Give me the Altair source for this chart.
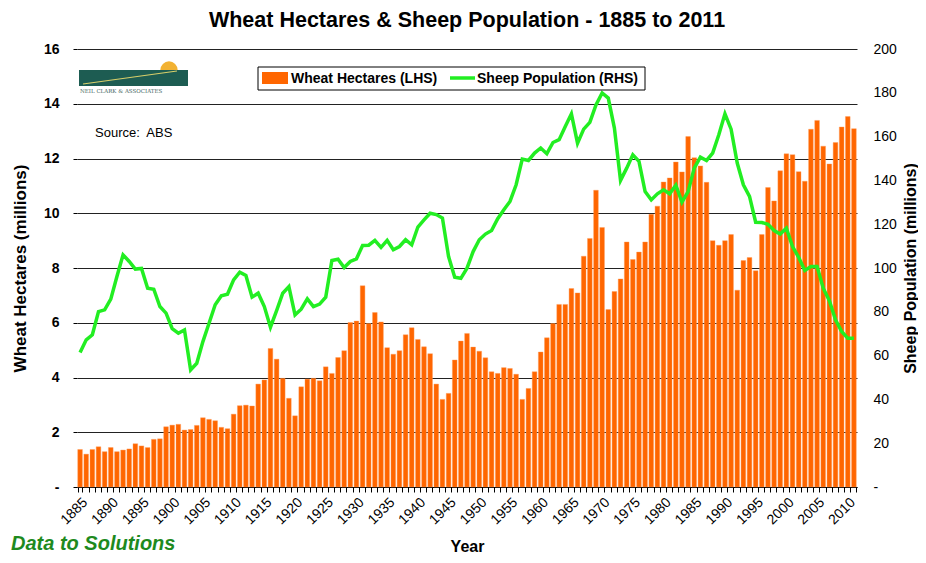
import altair as alt
import pandas as pd

years = list(range(1885, 2012))

wheat = [
    1.37, 1.20, 1.37, 1.47, 1.29, 1.44, 1.29, 1.35, 1.39, 1.58,
    1.50, 1.44, 1.74, 1.76, 2.20, 2.26, 2.29, 2.08, 2.10, 2.25,
    2.53, 2.47, 2.42, 2.18, 2.13, 2.66, 2.97, 2.99, 2.96, 3.76,
    3.91, 5.06, 4.67, 3.97, 3.24, 2.60, 3.66, 3.94, 3.97, 3.88,
    4.39, 4.15, 4.73, 4.98, 6.01, 6.06, 7.35, 5.97, 6.37, 6.03,
    5.09, 4.85, 4.98, 5.56, 5.82, 5.39, 5.12, 4.87, 3.76, 3.20,
    3.42, 4.64, 5.33, 5.61, 5.11, 4.96, 4.72, 4.21, 4.15, 4.36,
    4.33, 4.12, 3.20, 3.60, 4.21, 4.93, 5.45, 5.97, 6.67, 6.67,
    7.25, 7.09, 8.43, 9.08, 10.84, 9.48, 6.48, 7.14, 7.60, 8.95,
    8.31, 8.58, 8.95, 9.96, 10.26, 11.14, 11.29, 11.87, 11.51, 12.80,
    12.03, 11.73, 11.13, 9.00, 8.83, 9.00, 9.22, 7.19, 8.27, 8.38,
    7.90, 9.22, 10.94, 10.45, 11.55, 12.17, 12.14, 11.52, 11.17, 13.07,
    13.39, 12.45, 11.80, 12.58, 13.15, 13.53, 13.09,
]

sheep = [
    61.4, 67.2, 69.5, 80.1, 80.9, 85.8, 96.1, 106.0, 103.0, 99.5,
    99.8, 90.8, 90.3, 82.4, 79.4, 72.3, 70.2, 71.7, 53.5, 56.5,
    66.4, 74.8, 83.2, 87.3, 88.0, 94.6, 98.1, 96.6, 86.7, 88.5,
    82.4, 73.0, 80.5, 88.5, 91.5, 78.6, 81.2, 85.9, 82.4, 83.5,
    86.7, 103.4, 104.0, 100.2, 103.0, 104.2, 110.3, 110.4, 112.6, 109.4,
    112.6, 108.3, 109.8, 112.9, 110.6, 118.7, 122.0, 125.0, 124.4, 122.8,
    105.2, 95.8, 95.3, 99.9, 107.5, 112.9, 115.5, 117.1, 122.5, 126.6,
    130.4, 138.0, 149.7, 149.1, 152.5, 154.8, 152.2, 157.3, 158.6, 164.6,
    170.4, 157.0, 163.4, 166.5, 174.5, 179.9, 177.6, 163.9, 140.0, 145.6,
    151.7, 148.7, 134.9, 131.1, 133.9, 135.7, 133.9, 137.8, 130.1, 134.9,
    145.6, 150.6, 149.1, 152.5, 160.8, 170.4, 163.4, 147.9, 138.0, 132.7,
    120.9, 120.8, 120.0, 117.1, 115.5, 118.2, 109.8, 104.9, 98.9, 100.7,
    100.7, 90.8, 85.1, 76.3, 71.0, 67.9, 67.9,
]

wheat_ticks = [0, 2, 4, 6, 8, 10, 12, 14, 16]
sheep_ticks = [0, 20, 40, 60, 80, 100, 120, 140, 160, 180, 200]

title_text = "Wheat Hectares & Sheep Population - 1885 to 2011"
legend_labels = ["Wheat Hectares (LHS)", "Sheep Population (RHS)"]

df = pd.DataFrame({"Year": years, "Wheat": wheat, "Sheep": sheep})
one = pd.DataFrame({"k": [0]})

FONT = "Liberation Sans"
ORANGE = "#FF6600"
GREEN = "#22EE22"

x_enc = alt.X(
    "Year:O",
    scale=alt.Scale(paddingInner=0.24, paddingOuter=0.12),
    axis=alt.Axis(
        title="Year",
        titleFontSize=16,
        titleFontWeight="bold",
        titlePadding=12,
        labelAngle=-45,
        labelFontSize=14,
        labelExpr="datum.value % 5 == 0 ? datum.label : ''",
        labelPadding=3,
        tickBand="extent",
        tickSize=5,
        tickColor="#000000",
        domainColor="#000000",
        grid=False,
    ),
)

bars = alt.Chart(df).mark_bar(color=ORANGE, stroke="#FF9955", strokeWidth=0.4).encode(
    x=x_enc,
    y=alt.Y(
        "Wheat:Q",
        scale=alt.Scale(domain=[0, 16], nice=False),
        axis=alt.Axis(
            title="Wheat Hectares (millions)",
            titleFontSize=17,
            titleFontWeight="bold",
            titlePadding=14,
            values=wheat_ticks,
            labelExpr="datum.value == 0 ? '-' : datum.label",
            labelFontSize=14,
            labelFontWeight="bold",
            labelPadding=14,
            tickSize=4,
            tickColor="#000000",
            domain=False,
            grid=True,
            gridColor="#222222",
            gridWidth=1,
        ),
    ),
)

line = alt.Chart(df).mark_line(color=GREEN, strokeWidth=3.5).encode(
    x=alt.X("Year:O"),
    y=alt.Y(
        "Sheep:Q",
        scale=alt.Scale(domain=[0, 200], nice=False),
        axis=alt.Axis(
            orient="right",
            title="Sheep Population (millions)",
            titleAngle=-90,
            titleBaseline="top",
            titleFontSize=16,
            titleFontWeight="bold",
            titlePadding=6,
            values=sheep_ticks,
            labelExpr="datum.value == 0 ? '-' : datum.label",
            labelFontSize=14,
            labelPadding=16,
            ticks=False,
            domain=False,
            grid=False,
        ),
    ),
)

# Legend (drawn manually, box with two entries)
leg_box = alt.Chart(one).mark_rect(fill="white", stroke="black", strokeWidth=1).encode(
    x=alt.value(181), x2=alt.value(568), y=alt.value(18), y2=alt.value(41)
)
leg_swatch = alt.Chart(one).mark_rect(fill=ORANGE).encode(
    x=alt.value(185), x2=alt.value(211), y=alt.value(23), y2=alt.value(35)
)
leg_text1 = alt.Chart(one).mark_text(
    text=legend_labels[0], align="left", baseline="middle", font=FONT,
    fontSize=14, fontWeight="bold", color="black"
).encode(x=alt.value(214), y=alt.value(30))
leg_line = alt.Chart(one).mark_rule(color=GREEN, strokeWidth=3.5).encode(
    x=alt.value(373), x2=alt.value(398), y=alt.value(29)
)
leg_text2 = alt.Chart(one).mark_text(
    text=legend_labels[1], align="left", baseline="middle", font=FONT,
    fontSize=14, fontWeight="bold", color="black"
).encode(x=alt.value(400), y=alt.value(30))

# Source note
source = alt.Chart(one).mark_text(
    text="Source:\u00a0 ABS", align="left", baseline="middle", font=FONT,
    fontSize=13, color="black"
).encode(x=alt.value(18), y=alt.value(84))

# Footer
footer = alt.Chart(one).mark_text(
    text="Data to Solutions", align="left", baseline="alphabetic", font=FONT,
    fontSize=20, fontWeight="bold", fontStyle="italic", color="#1E8A1E"
).encode(x=alt.value(-66), y=alt.value(501))

# Logo approximation
logo_sun = alt.Chart(one).mark_point(
    shape="circle", filled=True, color="#F2B233", opacity=1, size=300
).encode(x=alt.value(92), y=alt.value(21))
logo_rect = alt.Chart(one).mark_rect(fill="#1D5C52").encode(
    x=alt.value(2), x2=alt.value(111), y=alt.value(21), y2=alt.value(37)
)
logo_streak = alt.Chart(one).mark_rule(color="#D8CF6A", strokeWidth=1.2).encode(
    x=alt.value(6), x2=alt.value(100), y=alt.value(35), y2=alt.value(22)
)
logo_text = alt.Chart(one).mark_text(
    text="NEIL CLARK & ASSOCIATES", align="left", baseline="middle", font="DejaVu Serif",
    fontSize=5.5, color="#4A6A66"
).encode(x=alt.value(3), y=alt.value(42))

chart = alt.layer(
    bars, line,
    leg_box, leg_swatch, leg_text1, leg_line, leg_text2,
    source, footer, logo_sun, logo_rect, logo_streak, logo_text,
).resolve_scale(y="independent").properties(
    width=780,
    height=438,
    autosize=alt.AutoSizeParams(type="none"),
    padding={"left": 69, "top": 41, "right": 61, "bottom": 68},
    title=alt.TitleParams(
        text=title_text, font=FONT, fontSize=21.5, fontWeight="bold",
        color="black", anchor="middle", offset=11,
    ),
).configure(font=FONT).configure_view(stroke=None).configure_axis(
    labelFont=FONT, titleFont=FONT, labelColor="black", titleColor="black"
)

chart.save("out.html", embed_options={"renderer": "svg", "actions": False})
